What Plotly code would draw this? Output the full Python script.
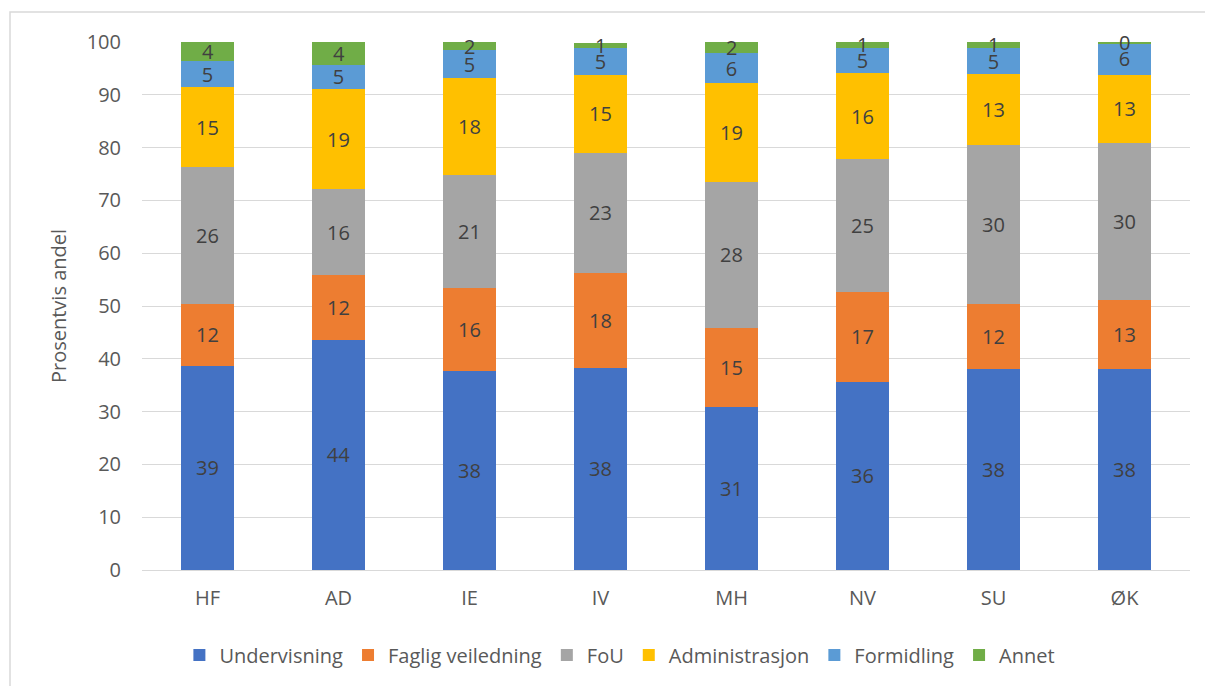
import plotly.graph_objects as go

categories = ["HF", "AD", "IE", "IV", "MH", "NV", "SU", "ØK"]
undervisning = [38.7, 43.6, 37.6, 38.3, 30.9, 35.7, 38.0, 38.1]
faglig_veiledning = [11.7, 12.3, 15.9, 18.0, 15.0, 17.0, 12.4, 13.1]
fou = [26.0, 16.2, 21.3, 22.7, 27.6, 25.1, 30.1, 29.7]
administrasjon = [15.0, 19.0, 18.4, 14.8, 18.7, 16.3, 13.4, 12.9]
formidling = [5.0, 4.6, 5.2, 5.0, 5.7, 4.8, 5.0, 6.0]
annet = [3.6, 4.3, 1.6, 1.1, 2.1, 1.1, 1.1, 0.3]

series = [
    ("Undervisning", undervisning, "#4472C4"),
    ("Faglig veiledning", faglig_veiledning, "#ED7D31"),
    ("FoU", fou, "#A5A5A5"),
    ("Administrasjon", administrasjon, "#FFC000"),
    ("Formidling", formidling, "#5B9BD5"),
    ("Annet", annet, "#70AD47"),
]

FONT = "'Open Sans', Lato, sans-serif"
LABEL_FONT = dict(family=FONT, size=20, color="#404040")

fig = go.Figure()
for name, vals, color in series:
    is_last = name == "Annet"
    fig.add_trace(go.Bar(
        name=name, x=categories, y=vals,
        marker=dict(color=color, line=dict(width=0)),
        text=vals, texttemplate="%{y:.0f}",
        textposition="none" if is_last else "inside",
        insidetextanchor="middle", textangle=0,
        textfont=LABEL_FONT,
        cliponaxis=False,
    ))

# labels for the thin top segments (Annet), centred on each segment
annotations = []
for i, cat in enumerate(categories):
    base = undervisning[i] + faglig_veiledning[i] + fou[i] + administrasjon[i] + formidling[i]
    annotations.append(dict(x=cat, y=base + annet[i] / 2, text=f"{annet[i]:.0f}",
                            showarrow=False, font=LABEL_FONT, xanchor="center", yanchor="middle"))

W, H = 1205, 686
L, R, T, B = 142, 15, 42, 116
pw, ph = W - L - R, H - T - B

def px(x):
    return (x - L) / pw

def py(y):
    return (H - B - y) / ph

fig.update_layout(
    width=W, height=H,
    barmode="stack", bargap=0.6,
    plot_bgcolor="white", paper_bgcolor="white",
    margin=dict(l=L, r=R, t=T, b=B),
    font=dict(family=FONT, color="#595959"),
    uniformtext=dict(minsize=20, mode="show"),
    annotations=annotations,
    legend=dict(orientation="h", x=0.456, xanchor="center", y=py(655), yanchor="middle",
                font=dict(size=20, color="#595959"), traceorder="normal",
                itemwidth=30),
    shapes=[dict(type="rect", xref="paper", yref="paper",
                 x0=px(10), x1=px(1212), y0=py(692), y1=py(12),
                 line=dict(color="#D9D9D9", width=1.5), layer="below")],
)
fig.update_xaxes(showgrid=False, showline=True, linecolor="#D9D9D9", linewidth=1,
                 tickfont=dict(size=20, color="#595959"), ticks="", ticklabelstandoff=10)
fig.update_yaxes(range=[0, 100], dtick=10, showgrid=True, gridcolor="#D9D9D9", gridwidth=1,
                 zeroline=False, tickfont=dict(size=20, color="#595959"), ticks="",
                 ticklabelstandoff=20,
                 title=dict(text="Prosentvis andel", font=dict(size=20, color="#595959"), standoff=14))

fig.write_html("out.html", config={"displayModeBar": False},
               post_script="document.body.style.margin='0';")
